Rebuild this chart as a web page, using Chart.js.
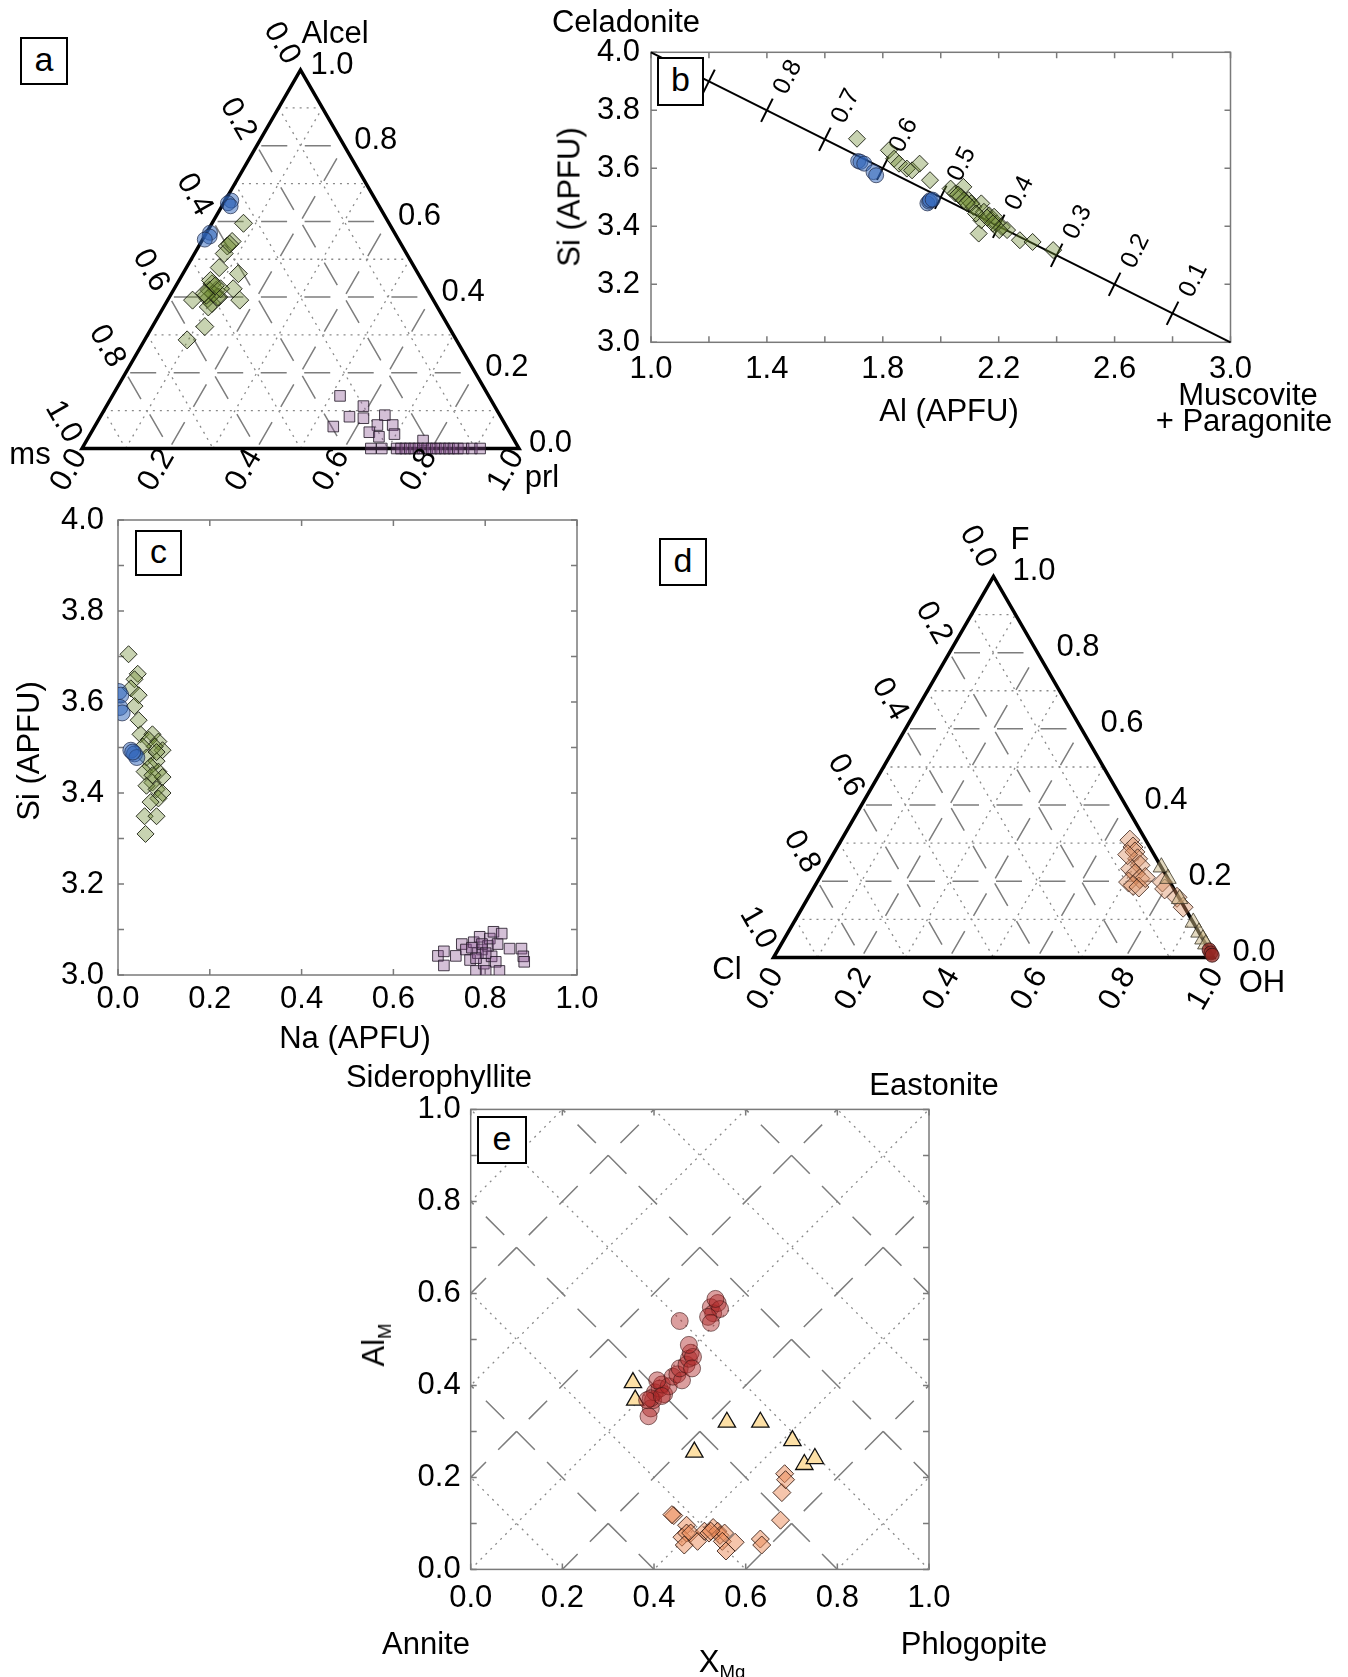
<!DOCTYPE html>
<html>
<head>
<meta charset="utf-8">
<title>Mica compositions</title>
<script src="https://cdn.jsdelivr.net/npm/chart.js@4.4.1/dist/chart.umd.min.js"></script>
<style>
  body { margin: 0; background: #fff; }
  #fig { position: relative; width: 1348px; height: 1677px; overflow: hidden;
         font-family: "Liberation Sans", Arial, Helvetica, sans-serif; color: #000; }
  #fig canvas { position: absolute; }
  .lbl { position: absolute; z-index: 2; font-size: 31px; line-height: 1; white-space: nowrap;
         transform: translate(-50%, -50%); }
  .vert { transform: translate(-50%, -50%) rotate(-90deg); }
  .panel { position: absolute; z-index: 2; border: 2.5px solid #000; box-sizing: border-box; background: #fff;
           font-size: 34px; display: flex; align-items: center; justify-content: center; padding-bottom: 4px; }
  sub { font-size: 60%; vertical-align: -0.35em; }
</style>
</head>
<body>
<div id="fig">
  <canvas id="chartA" width="580" height="500" style="left:0;top:0"></canvas>
  <canvas id="chartB" width="808" height="450" style="left:540px;top:0"></canvas>
  <canvas id="chartC" width="620" height="600" style="left:0;top:480px"></canvas>
  <canvas id="chartD" width="708" height="510" style="left:640px;top:500px"></canvas>
  <canvas id="chartE" width="700" height="637" style="left:330px;top:1040px"></canvas>

  <div class="panel" style="left:20px;top:37px;width:48px;height:48px">a</div>
  <div class="panel" style="left:657px;top:57px;width:47px;height:49px">b</div>
  <div class="panel" style="left:135px;top:530px;width:47px;height:46px">c</div>
  <div class="panel" style="left:659px;top:538px;width:48px;height:48px">d</div>
  <div class="panel" style="left:477px;top:1116px;width:50px;height:48px">e</div>

  <div class="lbl" style="left:335px;top:32px">Alcel</div>
  <div class="lbl" style="left:30px;top:453px">ms</div>
  <div class="lbl" style="left:542px;top:476px">prl</div>

  <div class="lbl" style="left:626px;top:21px">Celadonite</div>
  <div class="lbl" style="left:1248px;top:394px">Muscovite</div>
  <div class="lbl" style="left:1244px;top:420px">+ Paragonite</div>
  <div class="lbl vert" style="left:569px;top:197px">Si (APFU)</div>
  <div class="lbl" style="left:949px;top:410px">Al (APFU)</div>

  <div class="lbl vert" style="left:28px;top:751px">Si (APFU)</div>
  <div class="lbl" style="left:355px;top:1037px">Na (APFU)</div>

  <div class="lbl" style="left:1020px;top:538px">F</div>
  <div class="lbl" style="left:727px;top:968px">Cl</div>
  <div class="lbl" style="left:1262px;top:981px">OH</div>

  <div class="lbl" style="left:439px;top:1076px">Siderophyllite</div>
  <div class="lbl" style="left:934px;top:1084px">Eastonite</div>
  <div class="lbl" style="left:426px;top:1643px">Annite</div>
  <div class="lbl" style="left:974px;top:1643px">Phlogopite</div>
  <div class="lbl vert" style="left:376px;top:1345px">Al<sub>M</sub></div>
  <div class="lbl" style="left:722px;top:1664px">X<sub>Mg</sub></div>
</div>

<script>
var FONT = '"Liberation Sans", Arial, Helvetica, sans-serif';
var H = Math.sqrt(3) / 2;

// ternary ticks shared by panels a and d
var ternTicks = [0, 0.2, 0.4, 0.6, 0.8, 1.0];
var ternTickLabels = ['0.0', '0.2', '0.4', '0.6', '0.8', '1.0'];
var ternMajor = [0.2, 0.4, 0.6, 0.8];
var ternMinor = [0.1, 0.3, 0.5, 0.7, 0.9];

// (a) Alcel (top) - ms (left) - prl (right), fractions
var aCircleAlcel = [0.655, 0.648, 0.640, 0.570, 0.560, 0.552];
var aCirclePrl   = [0.014, 0.010, 0.020, 0.008, 0.012, 0.005];
var aDiamondAlcel = [0.595, 0.547, 0.535, 0.515, 0.478, 0.462, 0.435, 0.418, 0.418, 0.400, 0.383, 0.396, 0.422,
                     0.392, 0.392, 0.374, 0.322, 0.287, 0.409, 0.400, 0.444, 0.540, 0.422, 0.405, 0.430, 0.410];
var aDiamondPrl   = [0.072, 0.070, 0.065, 0.068, 0.075, 0.127, 0.080, 0.082, 0.098, 0.113, 0.106, 0.090, 0.135,
                     0.165, 0.057, 0.102, 0.120, 0.097, 0.096, 0.110, 0.072, 0.068, 0.106, 0.082, 0.090, 0.075];
var aSquareAlcel = [0.139, 0.112, 0.084, 0.080, 0.058, 0.088, 0.062, 0.062, 0.043, 0.031, 0.038, 0.021,
                    0, 0, 0, 0, 0, 0, 0, 0, 0, 0, 0, 0, 0, 0, 0, 0, 0, 0, 0, 0];
var aSquarePrl   = [0.521, 0.588, 0.570, 0.604, 0.546, 0.649, 0.645, 0.680, 0.636, 0.664, 0.696, 0.770,
                    0.661, 0.686, 0.720, 0.730, 0.740, 0.750, 0.760, 0.770, 0.780, 0.790, 0.800, 0.810,
                    0.820, 0.830, 0.840, 0.850, 0.860, 0.873, 0.892, 0.911];

// (b) Al vs Si, celadonite fraction scale along the join
var bXTicks = [1.0, 1.2, 1.4, 1.6, 1.8, 2.0, 2.2, 2.4, 2.6, 2.8, 3.0];
var bXLabelTicks = [1.0, 1.4, 1.8, 2.2, 2.6, 3.0];
var bYTicks = [3.0, 3.2, 3.4, 3.6, 3.8, 4.0];
var celFractions = [0.9, 0.8, 0.7, 0.6, 0.5, 0.4, 0.3, 0.2, 0.1];
var celLabels = ['', '0.8', '0.7', '0.6', '0.5', '0.4', '0.3', '0.2', '0.1'];
var bCircleAl = [1.715, 1.723, 1.736, 1.768, 1.777, 1.954, 1.960, 1.963, 1.972];
var bCircleSi = [3.625, 3.622, 3.616, 3.587, 3.576, 3.479, 3.485, 3.490, 3.492];
var bDiamondAl = [1.711, 1.821, 1.839, 1.856, 1.883, 1.901, 1.927, 1.963, 2.034, 2.078, 2.051, 2.069, 2.096, 2.113,
                  2.140, 2.149, 2.167, 2.176, 2.193, 2.211, 2.229, 2.131, 2.140, 2.273, 2.317, 2.388, 2.184, 2.202,
                  2.105, 2.122, 2.060, 2.080, 2.090, 2.160, 2.180];
var bDiamondSi = [3.702, 3.662, 3.633, 3.616, 3.599, 3.593, 3.616, 3.559, 3.530, 3.536, 3.513, 3.502, 3.490, 3.467,
                  3.479, 3.450, 3.438, 3.421, 3.410, 3.398, 3.387, 3.375, 3.421, 3.352, 3.346, 3.318, 3.433, 3.387,
                  3.479, 3.444, 3.510, 3.490, 3.480, 3.430, 3.410];

// (c) Na vs Si
var cXTicks = [0, 0.2, 0.4, 0.6, 0.8, 1.0];
var cXLabelTicks = [0, 0.2, 0.4, 0.6, 0.8, 1.0];
var cYTicks = [3.0, 3.1, 3.2, 3.3, 3.4, 3.5, 3.6, 3.7, 3.8, 3.9, 4.0];
var cYLabelTicks = [3.0, 3.2, 3.4, 3.6, 3.8, 4.0];
var cCircleNa = [0.002, 0.006, 0.004, 0.009, 0.028, 0.036, 0.041, 0.032];
var cCircleSi = [3.623, 3.615, 3.588, 3.576, 3.494, 3.486, 3.478, 3.490];
var cDiamondNa = [0.023, 0.043, 0.036, 0.028, 0.045, 0.036, 0.045, 0.049, 0.075, 0.067, 0.088, 0.097, 0.080, 0.054,
                  0.062, 0.084, 0.071, 0.058, 0.088, 0.097, 0.075, 0.062, 0.084, 0.097, 0.088, 0.071, 0.058, 0.084,
                  0.060, 0.075, 0.084];
var cDiamondSi = [3.705, 3.662, 3.650, 3.630, 3.615, 3.591, 3.560, 3.529, 3.529, 3.517, 3.513, 3.494, 3.502, 3.502,
                  3.478, 3.470, 3.459, 3.447, 3.447, 3.435, 3.423, 3.416, 3.408, 3.400, 3.388, 3.380, 3.349, 3.349,
                  3.310, 3.439, 3.490];
var cSquareNa = [0.697, 0.710, 0.710, 0.736, 0.749, 0.758, 0.767, 0.775, 0.780, 0.788, 0.793, 0.797, 0.801, 0.806,
                 0.810, 0.814, 0.818, 0.827, 0.823, 0.831, 0.836, 0.853, 0.879, 0.883, 0.885, 0.784, 0.793, 0.780,
                 0.771, 0.801];
var cSquareSi = [3.042, 3.052, 3.021, 3.042, 3.068, 3.056, 3.033, 3.072, 3.009, 3.084, 3.056, 3.025, 3.009, 3.064,
                 3.080, 3.041, 3.095, 3.068, 3.029, 3.009, 3.091, 3.058, 3.058, 3.041, 3.029, 3.048, 3.068, 3.037,
                 3.060, 3.048];

// (d) F (top) - Cl (left) - OH (right)
var dDiamondF  = [0.308, 0.290, 0.277, 0.259, 0.242, 0.233, 0.220, 0.207, 0.198, 0.189, 0.185, 0.198, 0.180, 0.158,
                  0.132, 0.270, 0.210];
var dDiamondCl = [0.036, 0.038, 0.040, 0.043, 0.046, 0.072, 0.068, 0.064, 0.094, 0.088, 0.077, 0.017, 0.021, 0.004,
                  0.003, 0.060, 0.050];
var dTriangleF  = [0.237, 0.207, 0.154, 0.092, 0.066, 0.048, 0.035];
var dTriangleCl = [0.000, 0.000, 0.000, 0.000, 0.000, 0.000, 0.000];
var dCircleF  = [0.020, 0.012, 0.006];
var dCircleCl = [0.000, 0.000, 0.000];

// (e) X_Mg vs Al_M
var eXTicks = [0, 0.2, 0.4, 0.6, 0.8, 1.0];
var eXLabelTicks = [0, 0.2, 0.4, 0.6, 0.8, 1.0];
var eYTicks = [0, 0.1, 0.2, 0.3, 0.4, 0.5, 0.6, 0.7, 0.8, 0.9, 1.0];
var eYLabelTicks = [0, 0.2, 0.4, 0.6, 0.8, 1.0];
var eDashSum  = [0.4, 0.8, 1.2, 1.6];        // Al + X = const
var eDashDiff = [-0.6, -0.2, 0.2, 0.6];      // Al - X = const
var eDotSum   = [0.2, 0.6, 1.0, 1.4, 1.8];
var eDotDiff  = [-0.8, -0.4, 0, 0.4, 0.8];
var eCircleX  = [0.393, 0.388, 0.398, 0.402, 0.412, 0.422, 0.417, 0.432, 0.407, 0.393, 0.441, 0.451, 0.461, 0.456,
                 0.471, 0.476, 0.480, 0.485, 0.476, 0.483, 0.456, 0.524, 0.529, 0.539, 0.544, 0.518, 0.534, 0.524,
                 0.385, 0.417];
var eCircleAl = [0.350, 0.333, 0.368, 0.385, 0.393, 0.381, 0.402, 0.398, 0.411, 0.372, 0.419, 0.424, 0.411, 0.437,
                 0.445, 0.458, 0.471, 0.462, 0.488, 0.437, 0.540, 0.570, 0.557, 0.579, 0.566, 0.549, 0.588, 0.536,
                 0.368, 0.377];
var eTriangleX  = [0.354, 0.359, 0.488, 0.559, 0.632, 0.702, 0.728, 0.751];
var eTriangleAl = [0.406, 0.368, 0.255, 0.320, 0.320, 0.280, 0.228, 0.241];
var eDiamondX  = [0.443, 0.471, 0.461, 0.471, 0.480, 0.466, 0.495, 0.510, 0.520, 0.529, 0.539, 0.544, 0.554, 0.549,
                  0.557, 0.577, 0.632, 0.635, 0.676, 0.679, 0.685, 0.687, 0.439, 0.524];
var eDiamondAl = [0.117, 0.096, 0.070, 0.079, 0.079, 0.053, 0.061, 0.083, 0.079, 0.091, 0.083, 0.074, 0.079, 0.061,
                  0.040, 0.059, 0.066, 0.053, 0.107, 0.167, 0.208, 0.195, 0.119, 0.083];

Chart.defaults.font.family = FONT;
Chart.defaults.color = '#000';

// marker looks
var blueCircle   = { pointStyle: 'circle', backgroundColor: 'rgba(45,100,185,0.5)', borderColor: 'rgba(30,40,70,0.7)', borderWidth: 1 };
var greenDiamond = { pointStyle: 'rectRot', backgroundColor: 'rgba(110,140,50,0.38)', borderColor: 'rgba(25,30,15,0.9)', borderWidth: 1 };
var purpleSquare = { pointStyle: 'rect', backgroundColor: 'rgba(135,80,145,0.36)', borderColor: 'rgba(40,30,45,0.85)', borderWidth: 1 };
var peachDiamond = { pointStyle: 'rectRot', backgroundColor: 'rgba(220,140,95,0.42)', borderColor: 'rgba(60,35,25,0.8)', borderWidth: 1 };
var tanTriangle  = { pointStyle: 'triangle', backgroundColor: 'rgba(200,180,130,0.5)', borderColor: 'rgba(60,55,40,0.8)', borderWidth: 1 };
var redCircle    = { pointStyle: 'circle', backgroundColor: 'rgba(175,40,40,0.45)', borderColor: 'rgba(60,20,20,0.6)', borderWidth: 1 };
var yellowTri    = { pointStyle: 'triangle', backgroundColor: '#fde0a6', borderColor: '#111', borderWidth: 1.3 };
var orangeDiamond = { pointStyle: 'rectRot', backgroundColor: 'rgba(236,140,90,0.5)', borderColor: 'rgba(50,25,15,0.85)', borderWidth: 1 };

var majorGrid = { borderColor: '#7d7d7d', borderWidth: 1.5, borderDash: [26, 17.5], borderDashOffset: 39 };
var minorGrid = { borderColor: '#8a8a8a', borderWidth: 1.3, borderDash: [2, 5] };

function tern(top, right) { return { x: right + top / 2, y: top * H }; }

function xy(xs, ys) { return xs.map(function (v, i) { return { x: v, y: ys[i] }; }); }

function markers(data, look, radius, order, clip) {
  return Object.assign({ data: data, showLine: false, pointRadius: radius, order: order, clip: clip }, look);
}

function line(data, look, order, clip) {
  return Object.assign({ data: data, showLine: true, pointRadius: 0, fill: false, order: order, clip: clip }, look);
}

function baseOptions(pad, pluginOpts) {
  var plugins = { legend: { display: false }, tooltip: { enabled: false } };
  Object.assign(plugins, pluginOpts || {});
  return { responsive: false, animation: false, devicePixelRatio: 1, events: [],
           layout: { padding: pad }, plugins: plugins };
}

function drawRot(ctx, text, x, y, angle, align) {
  ctx.save();
  ctx.translate(x, y);
  ctx.rotate(angle);
  ctx.textAlign = align;
  ctx.textBaseline = 'middle';
  ctx.fillText(text, 0, 0);
  ctx.restore();
}

// tick labels along the three sides of a ternary
var ternLabelPlugin = {
  id: 'ternLabels',
  afterDraw: function (chart, args, opts) {
    var ctx = chart.ctx, sx = chart.scales.x, sy = chart.scales.y;
    function px(p) { return [sx.getPixelForValue(p.x), sy.getPixelForValue(p.y)]; }
    ctx.save();
    ctx.fillStyle = '#000';
    ctx.font = '31px ' + FONT;
    ternTicks.forEach(function (v, i) {
      var lab = ternTickLabels[i];
      var p = px(tern(v, 1 - v));
      drawRot(ctx, lab, p[0] + opts.right[0], p[1] + opts.right[1], 0, 'left');
      p = px(tern(0, v));
      drawRot(ctx, lab, p[0] + opts.bottom[0], p[1] + opts.bottom[1], -Math.PI / 3, 'right');
      p = px(tern(1 - v, 0));
      drawRot(ctx, lab, p[0] + opts.left[0], p[1] + opts.left[1], Math.PI / 3, 'right');
    });
    ctx.restore();
  }
};

// grey box with inward ticks for the x-y panels
var framePlugin = {
  id: 'frame',
  beforeDatasetsDraw: function (chart) {
    var a = chart.chartArea, ctx = chart.ctx, sx = chart.scales.x, sy = chart.scales.y;
    ctx.save();
    ctx.strokeStyle = '#7a7a7a';
    ctx.lineWidth = 1.5;
    ctx.strokeRect(a.left, a.top, a.right - a.left, a.bottom - a.top);
    ctx.beginPath();
    sx.ticks.forEach(function (t) {
      var p = sx.getPixelForValue(t.value);
      ctx.moveTo(p, a.bottom); ctx.lineTo(p, a.bottom - 6);
      ctx.moveTo(p, a.top); ctx.lineTo(p, a.top + 6);
    });
    sy.ticks.forEach(function (t) {
      var p = sy.getPixelForValue(t.value);
      ctx.moveTo(a.left, p); ctx.lineTo(a.left + 6, p);
      ctx.moveTo(a.right, p); ctx.lineTo(a.right - 6, p);
    });
    ctx.stroke();
    ctx.restore();
  }
};

// celadonite fraction ticks on the join in panel b
var celPlugin = {
  id: 'celScale',
  beforeDatasetsDraw: function (chart) {
    var sx = chart.scales.x, sy = chart.scales.y, ctx = chart.ctx;
    var x1 = sx.getPixelForValue(1), y1 = sy.getPixelForValue(4);
    var x2 = sx.getPixelForValue(3), y2 = sy.getPixelForValue(3);
    var len = Math.hypot(x2 - x1, y2 - y1), ax = (x2 - x1) / len, ay = (y2 - y1) / len;
    var nx = ay, ny = -ax;
    ctx.save();
    ctx.strokeStyle = '#000';
    ctx.fillStyle = '#000';
    ctx.lineWidth = 2;
    ctx.font = '25px ' + FONT;
    celFractions.forEach(function (f, i) {
      var px = sx.getPixelForValue(3 - 2 * f), py = sy.getPixelForValue(3 + f);
      ctx.beginPath();
      ctx.moveTo(px - nx * 13, py - ny * 13);
      ctx.lineTo(px + nx * 13, py + ny * 13);
      ctx.stroke();
      if (celLabels[i]) {
        drawRot(ctx, celLabels[i], px + nx * 39 + ax * 4, py + ny * 39 + ay * 4, Math.atan2(ny, nx), 'center');
      }
    });
    ctx.restore();
  }
};

function ternaryChart(id, pad, markerSets, labelOffsets) {
  var sets = markerSets.slice();
  sets.push(line([tern(1, 0), tern(0, 0), tern(0, 1), tern(1, 0), tern(0, 0)],
                 { borderColor: '#000', borderWidth: 3.5, borderJoinStyle: 'miter' }, 3, false));
  [[ternMajor, majorGrid, 5], [ternMinor, minorGrid, 6]].forEach(function (g) {
    g[0].forEach(function (v) {
      sets.push(line([tern(v, 0), tern(v, 1 - v)], g[1], g[2], false));
      sets.push(line([tern(0, v), tern(1 - v, v)], g[1], g[2], false));
      sets.push(line([tern(1 - v, 0), tern(0, 1 - v)], g[1], g[2], false));
    });
  });
  return new Chart(document.getElementById(id), {
    type: 'scatter',
    data: { datasets: sets },
    options: Object.assign(baseOptions(pad, { ternLabels: labelOffsets }), {
      scales: {
        x: { type: 'linear', min: 0, max: 1, display: false },
        y: { type: 'linear', min: 0, max: H, display: false }
      }
    }),
    plugins: [ternLabelPlugin]
  });
}

function axis(position, min, max, ticks, labelTicks, pad, size) {
  return {
    type: 'linear', position: position, min: min, max: max,
    grid: { display: false, drawTicks: false },
    border: { display: false },
    afterBuildTicks: function (scale) { scale.ticks = ticks.map(function (v) { return { value: v }; }); },
    afterFit: function (scale) {
      if (position === 'bottom') { scale.height = size; } else { scale.width = size; }
    },
    ticks: {
      autoSkip: false, maxRotation: 0, minRotation: 0, padding: pad, color: '#000',
      font: { size: 31 },
      callback: function (value) {
        var show = labelTicks.some(function (l) { return Math.abs(l - value) < 1e-6; });
        return show ? Number(value).toFixed(1) : '';
      }
    }
  };
}

function xyChart(id, pad, sets, xAxis, yAxis, plugins) {
  return new Chart(document.getElementById(id), {
    type: 'scatter',
    data: { datasets: sets },
    options: Object.assign(baseOptions(pad), { scales: { x: xAxis, y: yAxis } }),
    plugins: [framePlugin].concat(plugins || [])
  });
}

document.addEventListener('DOMContentLoaded', function () {

  // (a)
  var aPts = function (top, right) { return top.map(function (t, i) { return tern(t, right[i]); }); };
  ternaryChart('chartA', { left: 82, top: 70, right: 61, bottom: 51.5 }, [
    markers(aPts(aCircleAlcel, aCirclePrl), blueCircle, 7.5, 0, false),
    markers(aPts(aDiamondAlcel, aDiamondPrl), greenDiamond, 9, 1, false),
    markers(aPts(aSquareAlcel, aSquarePrl), purpleSquare, 7.5, 2, false)
  ], { right: [10, -5], bottom: [-2, 3], left: [-8, -8] });

  // (b)
  xyChart('chartB', { left: 51, top: 52.3, right: 117.5, bottom: 67.7 }, [
    markers(xy(bCircleAl, bCircleSi), blueCircle, 7.5, 0),
    markers(xy(bDiamondAl, bDiamondSi), greenDiamond, 8.5, 1),
    line([{ x: 1, y: 4 }, { x: 3, y: 3 }], { borderColor: '#000', borderWidth: 2 }, 3, false)
  ], axis('bottom', 1, 3, bXTicks, bXLabelTicks, 9, 40),
     axis('left', 3, 4, bYTicks, bYTicks, 11, 60), [celPlugin]);

  // (c)
  xyChart('chartC', { left: 58, top: 40, right: 43, bottom: 65 }, [
    markers(xy(cCircleNa, cCircleSi), blueCircle, 8, 0),
    markers(xy(cDiamondNa, cDiamondSi), greenDiamond, 8.5, 1),
    markers(xy(cSquareNa, cSquareSi), purpleSquare, 7.5, 2)
  ], axis('bottom', 0, 1, cXTicks, cXLabelTicks, 6, 40),
     axis('left', 3, 4, cYTicks, cYLabelTicks, 14, 60));

  // (d)
  var dPts = function (f, cl) { return f.map(function (v, i) { return tern(v, 1 - v - cl[i]); }); };
  ternaryChart('chartD', { left: 133.5, top: 76.45, right: 134.5, bottom: 52.5 }, [
    markers(dPts(dCircleF, dCircleCl), { pointStyle: 'circle', backgroundColor: 'rgba(150,40,35,0.75)', borderColor: 'rgba(50,20,20,0.8)', borderWidth: 1 }, 7, 0, false),
    markers(dPts(dTriangleF, dTriangleCl), tanTriangle, 9.5, 1, false),
    markers(dPts(dDiamondF, dDiamondCl), peachDiamond, 10, 2, false)
  ], { right: [19, -5], bottom: [3, 13], left: [-5, -11] });

  // (e)
  var eMajor = { borderColor: '#7d7d7d', borderWidth: 1.5, borderDash: [26, 17.3], borderDashOffset: 26 };
  var eSets = [
    markers(xy(eCircleX, eCircleAl), redCircle, 8.5, 0),
    markers(xy(eTriangleX, eTriangleAl), yellowTri, 10, 1),
    markers(xy(eDiamondX, eDiamondAl), orangeDiamond, 9, 2)
  ];
  [[eDashSum, eMajor, 5], [eDotSum, minorGrid, 6]].forEach(function (g) {
    g[0].forEach(function (c) {
      eSets.push(line([{ x: (c + 1) / 2, y: (c - 1) / 2 }, { x: (c - 1) / 2, y: (c + 1) / 2 }], g[1], g[2], 0));
    });
  });
  [[eDashDiff, eMajor, 5], [eDotDiff, minorGrid, 6]].forEach(function (g) {
    g[0].forEach(function (d) {
      eSets.push(line([{ x: -d / 2, y: d / 2 }, { x: (2 - d) / 2, y: (2 + d) / 2 }], g[1], g[2], 0));
    });
  });
  xyChart('chartE', { left: 80.7, top: 69.4, right: 101, bottom: 67.6 }, eSets,
    axis('bottom', 0, 1, eXTicks, eXLabelTicks, 10, 40),
    axis('left', 0, 1, eYTicks, eYLabelTicks, 10, 60));
});
</script>
</body>
</html>
